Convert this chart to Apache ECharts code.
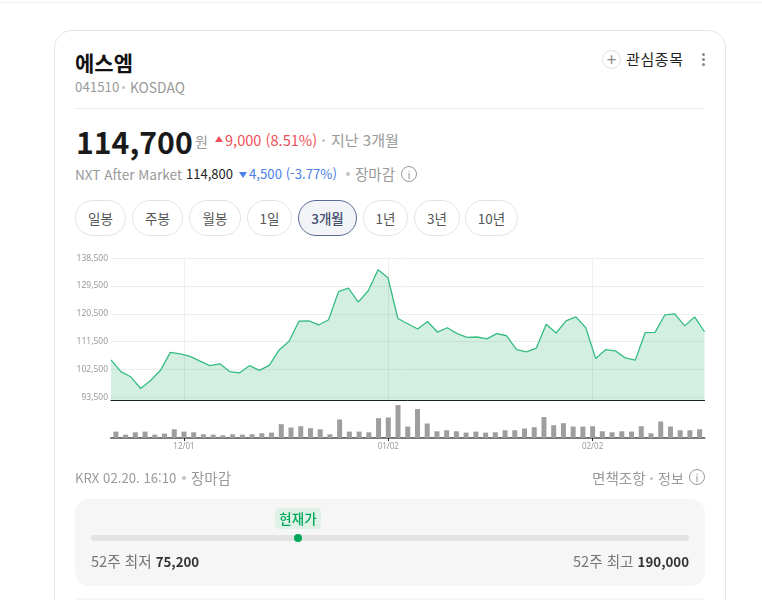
<!DOCTYPE html>
<html lang="ko"><head><meta charset="utf-8">
<script src="https://cdn.jsdelivr.net/npm/echarts@6/dist/echarts.min.js"></script>
<style>
html,body{margin:0;padding:0;background:#fff;width:762px;height:600px;overflow:hidden;font-family:"Noto Sans CJK KR","Noto Sans",sans-serif;}
.a{position:absolute;white-space:nowrap;line-height:20px;}
.g{color:#999}
.card{position:absolute;left:54px;top:30px;width:670px;height:640px;border:1px solid #e6e6e6;border-radius:18px;box-sizing:content-box}
.btn{position:absolute;top:200px;height:36px;border:1px solid #e3e3e3;border-radius:18px;box-sizing:border-box;text-align:center;line-height:34px;font-size:13.5px;color:#555;background:#fff}
.sel{border-color:#5a6a96;background:#f2f4f8;color:#444e6e;font-weight:500}
.info{position:absolute;width:16px;height:16px;border:1px solid #999;border-radius:50%;box-sizing:border-box;color:#999;font-size:11px;line-height:14px;text-align:center}
.dot{position:absolute;width:4px;height:4px;border-radius:50%;background:#c4c4c4}
#chart{position:absolute;left:0;top:0;width:762px;height:600px}
</style></head><body>
<div class="a" style="left:0;top:2px;width:762px;height:1px;background:#f0f0f0"></div>
<div class="card"></div>
<div class="a" style="left:75px;top:50px;font-size:21px;font-weight:700;color:#111;line-height:24px">에스엠</div>
<div class="a g" style="left:75px;top:77px;font-size:13.3px">041510</div>
<div class="dot" style="left:122px;top:86px;width:3px;height:3px"></div>
<div class="a g" style="left:130px;top:77px;font-size:13.8px">KOSDAQ</div>
<div class="a" style="left:602px;top:50px;width:19px;height:19px;border:1px solid #e0e0e0;border-radius:50%;box-sizing:border-box;text-align:center;line-height:15px;font-size:17px;color:#888">+</div>
<div class="a" style="left:626px;top:49px;font-size:15px;letter-spacing:.6px;color:#222">관심종목</div>
<div class="dot" style="left:702px;top:53px;width:3px;height:3px;background:#888"></div>
<div class="dot" style="left:702px;top:58px;width:3px;height:3px;background:#888"></div>
<div class="dot" style="left:702px;top:63px;width:3px;height:3px;background:#888"></div>
<div class="a" style="left:75px;top:108px;width:630px;height:1px;background:#eee"></div>

<div class="a" style="left:76px;top:120px;font-size:30.2px;font-weight:700;color:#1a1a1a;line-height:42px">114,700</div>
<div class="a g" style="left:195px;top:131px;font-size:14px">원</div>
<div class="a" style="left:215px;top:136px;width:0;height:0;border-left:4px solid transparent;border-right:4px solid transparent;border-bottom:6px solid #f0505a"></div>
<div class="a" style="left:225px;top:130px;font-size:14.6px;color:#f0505a">9,000 (8.51%)</div>
<div class="dot" style="left:322px;top:139px;width:3px;height:3px"></div>
<div class="a g" style="left:331px;top:130px;font-size:15px">지난 3개월</div>

<div class="a g" style="left:75px;top:164px;font-size:13.6px">NXT After Market</div>
<div class="a" style="left:186px;top:164px;font-size:13px;color:#222">114,800</div>
<div class="a" style="left:239px;top:172px;width:0;height:0;border-left:4px solid transparent;border-right:4px solid transparent;border-top:6px solid #4a80e8"></div>
<div class="a" style="left:249px;top:164px;font-size:13.2px;color:#4a80e8">4,500 (-3.77%)</div>
<div class="dot" style="left:346px;top:172px"></div>
<div class="a g" style="left:355px;top:164px;font-size:14.5px">장마감</div>
<div class="info" style="left:401px;top:166px">i</div>

<div class="btn" style="left:75px;width:51px">일봉</div>
<div class="btn" style="left:132px;width:51px">주봉</div>
<div class="btn" style="left:189px;width:52px">월봉</div>
<div class="btn" style="left:247px;width:45px">1일</div>
<div class="btn sel" style="left:298px;width:59px">3개월</div>
<div class="btn" style="left:363px;width:45px">1년</div>
<div class="btn" style="left:414px;width:46px">3년</div>
<div class="btn" style="left:465px;width:53px">10년</div>

<div id="chart"></div>

<div class="a g" style="left:75px;top:468px;font-size:13.2px">KRX 02.20. 16:10</div>
<div class="dot" style="left:182px;top:476px"></div>
<div class="a g" style="left:191px;top:468px;font-size:14.5px">장마감</div>
<div class="a g" style="left:592px;top:468px;font-size:14.6px">면책조항</div>
<div class="dot" style="left:650px;top:477px;width:3px;height:3px"></div>
<div class="a g" style="left:658px;top:468px;font-size:14px">정보</div>
<div class="info" style="left:689px;top:469px">i</div>

<div class="a" style="left:75px;top:499px;width:630px;height:87px;background:#f6f6f6;border-radius:14px"></div>
<div class="a" style="left:91px;top:535px;width:598px;height:6px;background:#e3e3e3;border-radius:3px"></div>
<div class="a" style="left:275px;top:508px;width:46px;height:21px;background:#e0f1e8;border-radius:4px;text-align:center;font-size:13.5px;font-weight:500;color:#00a85a">현재가</div>
<div class="a" style="left:294px;top:534px;width:8px;height:8px;background:#00a85a;border-radius:50%"></div>
<div class="a" style="left:91px;top:551px;font-size:14.6px;color:#777">52주 최저 <b style="color:#333;font-weight:700;font-size:13.3px">75,200</b></div>
<div class="a" style="right:73px;top:551px;font-size:14.6px;color:#777">52주 최고 <b style="color:#333;font-weight:700;font-size:13.3px">190,000</b></div>
<div class="a" style="left:75px;top:598px;width:630px;height:2px;background:#f6f6f6;border-radius:14px 14px 0 0"></div>

<script>
var dates = ['11/20','11/21','11/24','11/25','11/26','11/27','11/28',
 '12/01','12/02','12/03','12/04','12/05','12/08','12/09','12/10','12/11','12/12','12/15','12/16','12/17','12/18','12/19','12/22','12/23','12/24','12/26','12/29','12/30',
 '01/02','01/05','01/06','01/07','01/08','01/09','01/12','01/13','01/14','01/15','01/16','01/19','01/20','01/21','01/22','01/23','01/26','01/27','01/28','01/29','01/30',
 '02/02','02/03','02/04','02/05','02/06','02/09','02/10','02/11','02/12','02/13','02/19','02/20'];
var prices = [105600,101800,100100,96300,98900,102200,108000,107500,106700,105200,103700,104300,101800,101400,103700,102200,103800,108800,111600,118100,118200,116900,118600,127700,128800,124300,128000,134800,132200,119000,
 117300,115600,118000,114600,116000,114100,112900,113000,112400,114100,113400,108900,108200,109400,117100,114300,118200,119500,116000,106000,108900,108500,106200,105500,114400,114500,120200,120500,116600,119500,114700];
var volumes = [19,10,17,19,10,13,26,19,17,11,10,8,11,10,11,14,16,41,31,35,29,26,11,55,19,19,17,59,61,98,34,86,43,20,23,20,16,19,16,17,23,23,28,32,62,38,44,34,34,35,20,17,20,19,35,14,49,34,23,23,26];
var priceTicks = [93500,102500,111500,120500,129500,138500];
var dateTicks = ['12/01','01/02','02/02'];
var textGrey = '#9a9a9a', gridCol = '#eeeeee';
var showDate = function(i, v){ return dateTicks.indexOf(v) >= 0; };
var chart = echarts.init(document.getElementById('chart'), null, {renderer:'canvas'});
chart.setOption({
  animation:false,
  grid:[
    {left:111,right:57.5,top:258.3,bottom:199.5,containLabel:false},
    {left:111,right:57.5,top:405,bottom:162,containLabel:false}
  ],
  xAxis:[
    {type:'category',gridIndex:0,data:dates,boundaryGap:false,
     axisLine:{show:true,lineStyle:{color:'#111',width:1}},axisTick:{show:false},axisLabel:{show:false},splitLine:{show:false}},
    {type:'category',gridIndex:0,data:dates,boundaryGap:true,position:'bottom',
     axisLine:{show:false},axisTick:{show:false},axisLabel:{show:false},
     splitLine:{show:true,alignWithLabel:true,interval:showDate,lineStyle:{color:gridCol,width:1}}},
    {type:'category',gridIndex:1,data:dates,boundaryGap:true,
     axisLine:{show:true,lineStyle:{color:'#777',width:2}},
     axisTick:{show:true,alignWithLabel:true,interval:showDate,length:3,lineStyle:{color:'#222',width:1}},
     axisLabel:{show:true,interval:showDate,color:textGrey,fontSize:8,margin:5,fontFamily:'Noto Sans'},splitLine:{show:false}}
  ],
  yAxis:[
    {type:'value',gridIndex:0,min:92420,max:138500,
     axisLine:{show:false},axisTick:{show:false},splitLine:{show:false},
     axisLabel:{show:true,customValues:priceTicks,color:textGrey,fontSize:8.5,margin:3,padding:[0,0,1,0],fontFamily:'Noto Sans',
       formatter:function(v){return v.toLocaleString('en-US');}}},
    {type:'value',gridIndex:1,min:0,max:98,show:false}
  ],
  series:[
    {name:'grid',type:'line',xAxisIndex:0,yAxisIndex:0,data:[],z:0,silent:true,
     markLine:{silent:true,z:0,symbol:'none',label:{show:false},lineStyle:{color:gridCol,width:1,type:'solid'},
       data:priceTicks.map(function(v){return {yAxis:v};})}},
    {name:'가격',type:'line',xAxisIndex:0,yAxisIndex:0,data:prices,symbol:'none',z:3,
     lineStyle:{color:'#35bd82',width:1.3},areaStyle:{color:'rgba(48,178,120,0.21)',opacity:1}},
    {name:'거래량',type:'bar',xAxisIndex:2,yAxisIndex:1,data:volumes,barWidth:5,itemStyle:{color:'#9e9e9e'}}
  ]
});
</script>
</body></html>
